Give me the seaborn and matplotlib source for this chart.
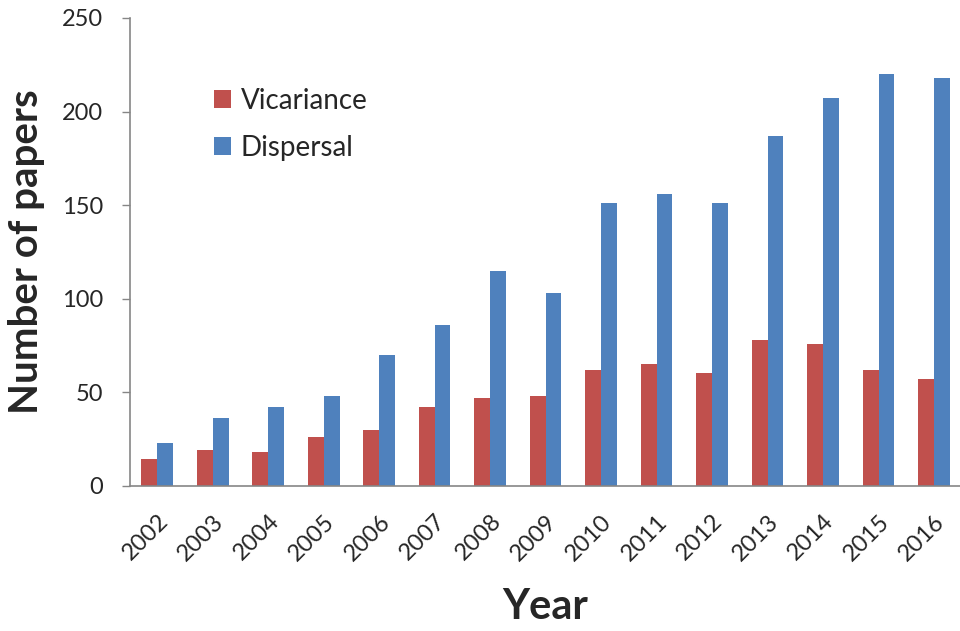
import matplotlib
matplotlib.use("Agg")
import matplotlib.pyplot as plt
import seaborn as sns
import pandas as pd

years = ["2002", "2003", "2004", "2005", "2006", "2007", "2008", "2009",
         "2010", "2011", "2012", "2013", "2014", "2015", "2016"]
vicariance = [14, 19, 18, 26, 30, 42, 47, 48, 62, 65, 60, 78, 76, 62, 57]
dispersal = [23, 36, 42, 48, 70, 86, 115, 103, 151, 156, 151, 187, 207, 220, 218]
series_names = ["Vicariance", "Dispersal"]
yticks = [0, 50, 100, 150, 200, 250]

df = pd.DataFrame({
    "Year": years * 2,
    "Papers": vicariance + dispersal,
    "Series": [series_names[0]] * len(years) + [series_names[1]] * len(years),
})

sns.set_style("white")
plt.rcParams["font.family"] = ["Lato", "DejaVu Sans"]

fig = plt.figure(figsize=(9.6, 6.31), dpi=100)
ax = fig.add_axes([0.1349, 0.2303, 0.8669, 0.7412])

sns.barplot(data=df, x="Year", y="Papers", hue="Series", ax=ax,
            palette=["#C0504D", "#4F81BD"], width=0.57, saturation=1,
            edgecolor="none", linewidth=0)

ax.set_ylim(0, 250)
ax.set_xlim(-0.5, len(years) - 0.5)
ax.set_yticks(yticks)
ax.set_yticklabels([str(t) for t in yticks], fontsize=17)
ax.tick_params(axis="y", direction="out", length=6, width=1, color="#868686", pad=13, left=True)
ax.tick_params(axis="x", length=0, pad=18)
plt.setp(ax.get_xticklabels(), rotation=45, ha="right", rotation_mode="anchor", fontsize=17)

for s in ["top", "right"]:
    ax.spines[s].set_visible(False)
for s in ["left", "bottom"]:
    ax.spines[s].set_color("#868686")
    ax.spines[s].set_linewidth(1.2)

ax.set_ylabel("Number of papers", fontsize=29, fontweight="bold", labelpad=12)
ax.set_xlabel("Year", fontsize=30, fontweight="bold", labelpad=17)

leg = ax.legend(loc="upper left", bbox_to_anchor=(214 / 960, 1 - 88 / 631),
                bbox_transform=fig.transFigure, frameon=False,
                fontsize=20, handlelength=0.62, handleheight=0.6, labelspacing=0.74,
                handletextpad=0.35, borderpad=0, borderaxespad=0, title=None)

fig.savefig("out.png", dpi=100)
